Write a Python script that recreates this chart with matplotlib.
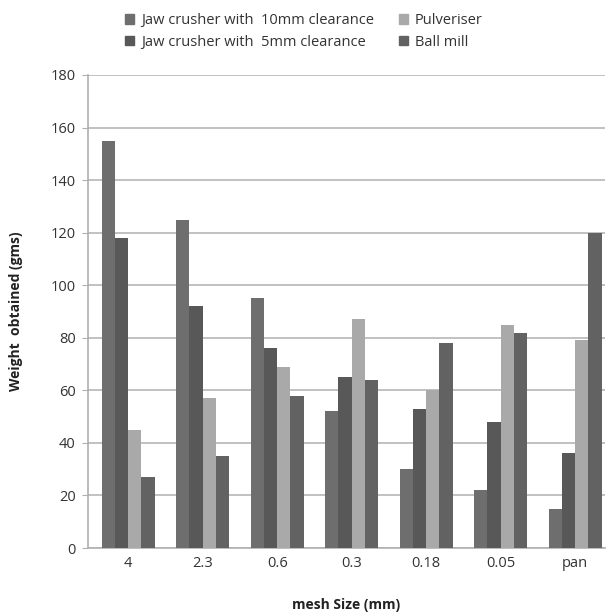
import numpy as np
from matplotlib import pyplot as plt
from matplotlib.patches import Patch

# values
mesh = ["4", "2.3", "0.6", "0.3", "0.18", "0.05", "pan"]
jaw_10mm = [155, 125, 95, 52, 30, 22, 15]
jaw_5mm = [118, 92, 76, 65, 53, 48, 36]
pulveriser = [45, 57, 69, 87, 60, 85, 79]
ball_mill = [27, 35, 58, 64, 78, 82, 120]

series = [("Jaw crusher with  10mm clearance", jaw_10mm, "#6e6e6e"),
          ("Jaw crusher with  5mm clearance", jaw_5mm, "#585858"),
          ("Pulveriser", pulveriser, "#a9a9a9"),
          ("Ball mill", ball_mill, "#626262")]

plt.rcParams['font.family'] = ['Open Sans', 'DejaVu Sans']

fig = plt.figure(figsize=(6.08, 6.14), dpi=100)
ax = fig.add_axes([88/608, 66/614, (605-88)/608, (548-75)/614])

x = np.arange(len(mesh))
w = 0.178
for i, (name, vals, col) in enumerate(series):
    ax.bar(x + (i - 1.5)*w, vals, w, color=col, label=name, zorder=3)

ax.set_xlim(-0.54, 6.40)
ax.set_ylim(0, 180)
ax.set_yticks(range(0, 181, 20))
ax.set_xticks(x)
ax.set_xticklabels(mesh)
ax.yaxis.grid(True, color="#bcbcbc", linewidth=1.3, zorder=0)
for s in ["top", "right"]:
    ax.spines[s].set_visible(False)
ax.spines["left"].set_color("#b0b0b0")
ax.spines["bottom"].set_color("#b0b0b0")
ax.spines["left"].set_linewidth(1.2)
ax.spines["bottom"].set_linewidth(1.2)
ax.tick_params(axis="y", length=4, color="#b0b0b0", labelsize=10.5, pad=5)
ax.tick_params(axis="x", length=0, pad=6, labelsize=10.5)
for t in ax.get_yticklabels() + ax.get_xticklabels():
    t.set_color("#333333")

ax.set_xlabel("mesh Size (mm)", fontsize=10, fontweight="bold", labelpad=19, color="#222222")
ax.set_ylabel("Weight  obtained (gms)", fontsize=10, fontweight="bold", labelpad=20, color="#222222")

handles = [Patch(color=c) for _, _, c in series]
labels = [n for n, _, _ in series]
fig.legend(handles, labels, ncol=2, loc="upper left", bbox_to_anchor=(112/608, 1.0),
           frameon=False, fontsize=10.5, handlelength=0.6, handleheight=0.6,
           handletextpad=0.5, columnspacing=1.7, labelspacing=0.45,
           labelcolor="#333333")

fig.savefig("out.png", dpi=100)
